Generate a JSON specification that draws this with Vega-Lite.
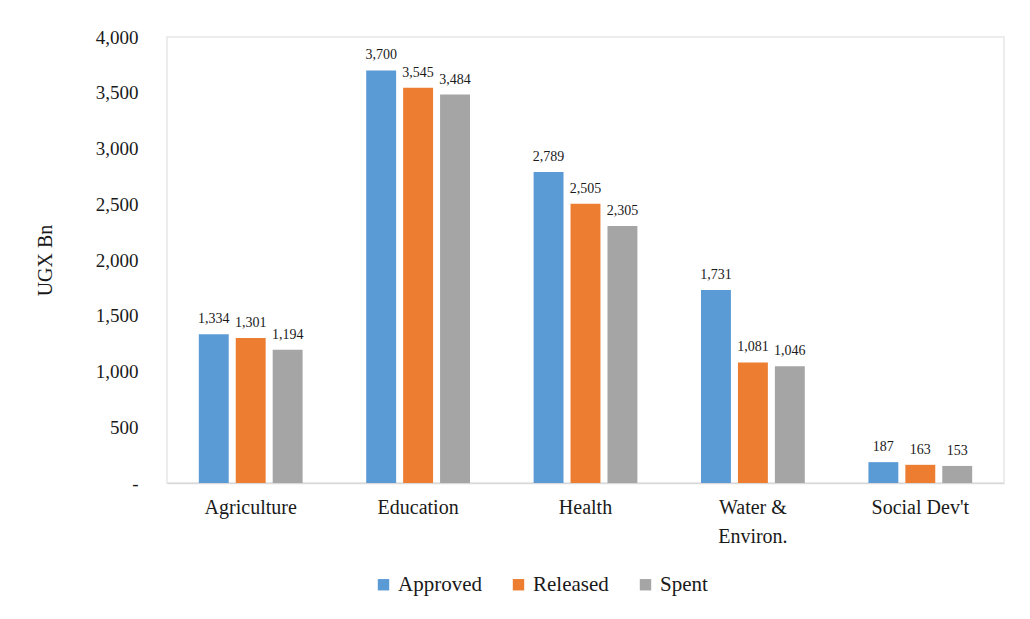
{
  "$schema": "https://vega.github.io/schema/vega-lite/v6.json",
  "width": 837,
  "height": 446,
  "autosize": {"type": "none"},
  "padding": {"left": 167, "top": 37, "right": 26, "bottom": 136},
  "background": "white",
  "config": {
    "font": "Liberation Serif",
    "axis": {"labelFont": "Liberation Serif", "titleFont": "Liberation Serif"},
    "legend": {"labelFont": "Liberation Serif", "titleFont": "Liberation Serif"},
    "text": {"font": "Liberation Serif"},
    "view": {"stroke": "#e6e6e6", "strokeWidth": 1.5}
  },
  "data": {
    "values": [
      {"sector": "Agriculture", "status": "Approved", "value": 1334},
      {"sector": "Agriculture", "status": "Released", "value": 1301},
      {"sector": "Agriculture", "status": "Spent", "value": 1194},
      {"sector": "Education", "status": "Approved", "value": 3700},
      {"sector": "Education", "status": "Released", "value": 3545},
      {"sector": "Education", "status": "Spent", "value": 3484},
      {"sector": "Health", "status": "Approved", "value": 2789},
      {"sector": "Health", "status": "Released", "value": 2505},
      {"sector": "Health", "status": "Spent", "value": 2305},
      {"sector": "Water & Environ.", "status": "Approved", "value": 1731},
      {"sector": "Water & Environ.", "status": "Released", "value": 1081},
      {"sector": "Water & Environ.", "status": "Spent", "value": 1046},
      {"sector": "Social Dev't", "status": "Approved", "value": 187},
      {"sector": "Social Dev't", "status": "Released", "value": 163},
      {"sector": "Social Dev't", "status": "Spent", "value": 153}
    ]
  },
  "encoding": {
    "x": {
      "field": "sector",
      "type": "nominal",
      "sort": null,
      "scale": {"paddingInner": 0.38, "paddingOuter": 0.19},
      "axis": {
        "title": null,
        "labelAngle": 0,
        "labelFont": "Liberation Serif",
        "labelFontSize": 20,
        "labelColor": "#1a1a1a",
        "labelPadding": 14,
        "labelLineHeight": 29,
        "labelBaseline": "top",
        "ticks": false,
        "domain": true,
        "domainColor": "#d9d9d9",
        "domainWidth": 1.5,
        "labelExpr": "datum.label == 'Water & Environ.' ? ['Water &', 'Environ.'] : datum.label"
      }
    },
    "xOffset": {
      "field": "status",
      "type": "nominal",
      "sort": ["Approved", "Released", "Spent"],
      "scale": {"paddingInner": 0.19, "paddingOuter": 0}
    }
  },
  "layer": [
    {
      "mark": {"type": "bar"},
      "encoding": {
        "y": {
          "field": "value",
          "type": "quantitative",
          "scale": {"domain": [0, 4000]},
          "axis": {
            "title": "UGX Bn",
            "titleFont": "Liberation Serif",
            "titleFontSize": 20,
            "titleFontWeight": "normal",
            "titleColor": "#1a1a1a",
            "titlePadding": 40,
            "labelFont": "Liberation Serif",
            "labelFontSize": 19,
            "labelColor": "#1a1a1a",
            "labelPadding": 29,
            "labelOverlap": false,
            "values": [0, 500, 1000, 1500, 2000, 2500, 3000, 3500, 4000],
            "labelExpr": "datum.value == 0 ? '-' : format(datum.value, ',')",
            "grid": false,
            "ticks": false,
            "domain": false
          }
        },
        "color": {
          "field": "status",
          "type": "nominal",
          "sort": ["Approved", "Released", "Spent"],
          "scale": {"domain": ["Approved", "Released", "Spent"], "range": ["#5b9bd5", "#ed7d31", "#a5a5a5"]},
          "legend": {
            "title": null,
            "orient": "none",
            "direction": "horizontal",
            "legendX": 206,
            "legendY": 537,
            "symbolType": "square",
            "symbolSize": 130,
            "symbolStrokeWidth": 0,
            "labelFont": "Liberation Serif",
            "labelFontSize": 21,
            "labelColor": "#1a1a1a",
            "labelOffset": 4,
            "columnPadding": 26
          }
        }
      }
    },
    {
      "mark": {"type": "text", "baseline": "bottom", "dy": -8, "fontSize": 14, "color": "#1a1a1a", "font": "Liberation Serif"},
      "encoding": {
        "y": {"field": "value", "type": "quantitative"},
        "text": {"field": "value", "type": "quantitative", "format": ","}
      }
    }
  ]
}
